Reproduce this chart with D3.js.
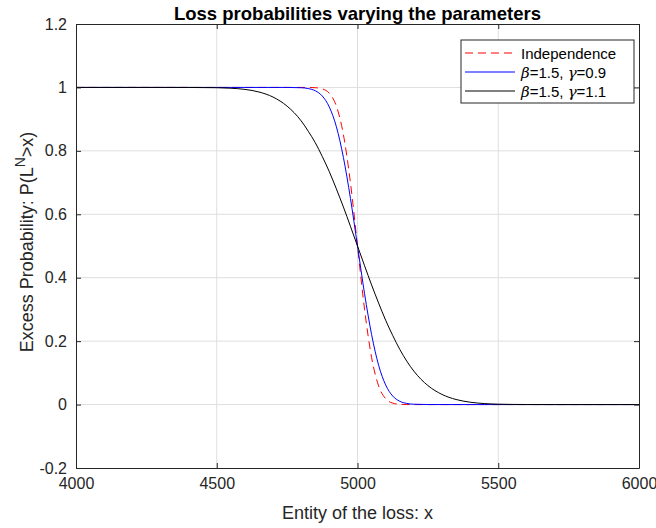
<!DOCTYPE html>
<html>
<head>
<meta charset="utf-8">
<script src="https://cdn.jsdelivr.net/npm/d3@7"></script>
<style>
  body { margin: 0; background: #fff; }
  svg text { font-family: "Liberation Sans", Arial, Helvetica, sans-serif; fill: #262626; }
</style>
</head>
<body>
<div id="chart"></div>
<script>
// tick values
const xTicks = [4000, 4500, 5000, 5500, 6000];
const yTicks = [-0.2, 0, 0.2, 0.4, 0.6, 0.8, 1, 1.2];

// loss levels x where the curves are sampled
const lossX = [4000, 4300, 4400, 4500, 4550, 4600, 4650, 4700, 4750, 4800, 4825, 4850, 4875, 4900, 4925,
               4950, 4975, 5000, 5025, 5050, 5075, 5100, 5125, 5150, 5175, 5200, 5250, 5300, 5350, 5400,
               5450, 5500, 5550, 5600, 5700, 6000];

// P(L^N > x) for each case
const independence = [1, 1, 1, 1, 1, 1, 1, 1, 1, 1, 0.9999, 0.9991, 0.9954, 0.9814, 0.9409,
                      0.851, 0.699, 0.5, 0.301, 0.149, 0.059, 0.0186, 0.0046, 0.0009, 0.0001, 0, 0, 0, 0, 0,
                      0, 0, 0, 0, 0, 0];
const gamma09 = [1, 1, 1, 1, 1, 1, 1, 1, 1, 0.999, 0.9964, 0.9895, 0.9728, 0.938, 0.876,
                 0.779, 0.65, 0.5, 0.35, 0.221, 0.124, 0.062, 0.027, 0.0105, 0.0036, 0.0011, 0.0001, 0, 0, 0,
                 0, 0, 0, 0, 0, 0];
const gamma11 = [1, 1, 0.9999, 0.9991, 0.9975, 0.9938, 0.9856, 0.9696, 0.9409, 0.8944, 0.862, 0.8257, 0.782, 0.734, 0.68,
                 0.6227, 0.562, 0.5, 0.438, 0.3773, 0.32, 0.266, 0.218, 0.1743, 0.137, 0.1056, 0.06, 0.032, 0.016, 0.0075,
                 0.0032, 0.0013, 0.0005, 0.0002, 0, 0];

const seriesNames = ["Independence", "β=1.5, γ=0.9", "β=1.5, γ=1.1"];

const series = [
    {name: seriesNames[0], values: independence, color: "#ff0000", dash: "8,5"},
    {name: seriesNames[1], values: gamma09, color: "#0000ff", dash: null},
    {name: seriesNames[2], values: gamma11, color: "#000000", dash: null}
];

const width = 656, height = 528;
const margin = {top: 24, right: 17, bottom: 60, left: 76};
const innerW = width - margin.left - margin.right;
const innerH = height - margin.top - margin.bottom;

const svg = d3.select("#chart").append("svg")
    .attr("width", width)
    .attr("height", height);

const g = svg.append("g")
    .attr("transform", `translate(${margin.left},${margin.top})`);

const x = d3.scaleLinear().domain([4000, 6000]).range([0, innerW]);
const y = d3.scaleLinear().domain([-0.2, 1.2]).range([innerH, 0]);

// grid
g.append("g").selectAll("line")
    .data(xTicks.slice(1, -1))
    .join("line")
    .attr("x1", d => x(d)).attr("x2", d => x(d))
    .attr("y1", 0).attr("y2", innerH)
    .attr("stroke", "#dedede").attr("stroke-width", 1);

g.append("g").selectAll("line")
    .data(yTicks.slice(1, -1))
    .join("line")
    .attr("x1", 0).attr("x2", innerW)
    .attr("y1", d => y(d)).attr("y2", d => y(d))
    .attr("stroke", "#dedede").attr("stroke-width", 1);

// curves
const line = d3.line()
    .x((d, i) => x(lossX[i]))
    .y(d => y(d))
    .curve(d3.curveMonotoneX);

series.forEach(s => {
    g.append("path")
        .datum(s.values)
        .attr("fill", "none")
        .attr("stroke", s.color)
        .attr("stroke-width", 1)
        .attr("stroke-dasharray", s.dash)
        .attr("d", line);
});

// axes with inward ticks
const xAxis = d3.axisBottom(x).tickValues(xTicks).tickSizeInner(-5).tickSizeOuter(0).tickPadding(10)
    .tickFormat(d => String(d));
const xAxisTop = d3.axisTop(x).tickValues(xTicks).tickSizeInner(-5).tickSizeOuter(0).tickFormat("");
const yAxis = d3.axisLeft(y).tickValues(yTicks).tickSizeInner(-5).tickSizeOuter(0).tickPadding(9)
    .tickFormat(d => String(Math.round(d * 10) / 10));
const yAxisRight = d3.axisRight(y).tickValues(yTicks).tickSizeInner(-5).tickSizeOuter(0).tickFormat("");

const styleAxis = sel => {
    sel.select(".domain").attr("stroke", "#262626");
    sel.selectAll(".tick line").attr("stroke", "#262626");
    sel.selectAll(".tick text").attr("fill", "#262626").style("font-size", "16px");
};

g.append("g").attr("transform", `translate(0,${innerH})`).call(xAxis).call(styleAxis);
g.append("g").call(xAxisTop).call(styleAxis);
g.append("g").call(yAxis).call(styleAxis);
g.append("g").attr("transform", `translate(${innerW},0)`).call(yAxisRight).call(styleAxis);

// title and axis labels
svg.append("text")
    .attr("x", margin.left + innerW / 2)
    .attr("y", 20)
    .attr("text-anchor", "middle")
    .style("font-size", "18.5px")
    .style("font-weight", "bold")
    .style("fill", "#000")
    .text("Loss probabilities varying the parameters");

svg.append("text")
    .attr("x", margin.left + innerW / 2)
    .attr("y", 519)
    .attr("text-anchor", "middle")
    .style("font-size", "18px")
    .text("Entity of the loss: x");

const yLabel = svg.append("text")
    .attr("transform", `translate(33,${margin.top + innerH / 2 - 4}) rotate(-90)`)
    .attr("text-anchor", "middle")
    .style("font-size", "18px");
yLabel.append("tspan").text("Excess Probability: P(L");
yLabel.append("tspan").attr("dy", -8).style("font-size", "14px").text("N");
yLabel.append("tspan").attr("dy", 8).text(">x)");

// legend
const legend = svg.append("g").attr("transform", "translate(461,40)");
legend.append("rect")
    .attr("width", 173).attr("height", 63)
    .attr("fill", "#fff").attr("stroke", "#262626").attr("stroke-width", 1);

series.forEach((s, i) => {
    const row = legend.append("g").attr("transform", `translate(0,${13 + i * 19})`);
    row.append("line")
        .attr("x1", 4).attr("x2", 54)
        .attr("stroke", s.color).attr("stroke-width", 1)
        .attr("stroke-dasharray", s.dash);
    const t = row.append("text")
        .attr("x", 60).attr("y", 5.5)
        .style("font-size", "15px")
        .style("fill", "#000");
    if (i === 0) {
        t.text(s.name);
    } else {
        const parts = s.name.split(/(β|γ)/);
        parts.forEach(p => {
            if (p === "") return;
            const sp = t.append("tspan").text(p);
            if (p === "β" || p === "γ") sp.style("font-style", "italic").style("font-family", "'DejaVu Serif', serif");
        });
    }
});
</script>
</body>
</html>
